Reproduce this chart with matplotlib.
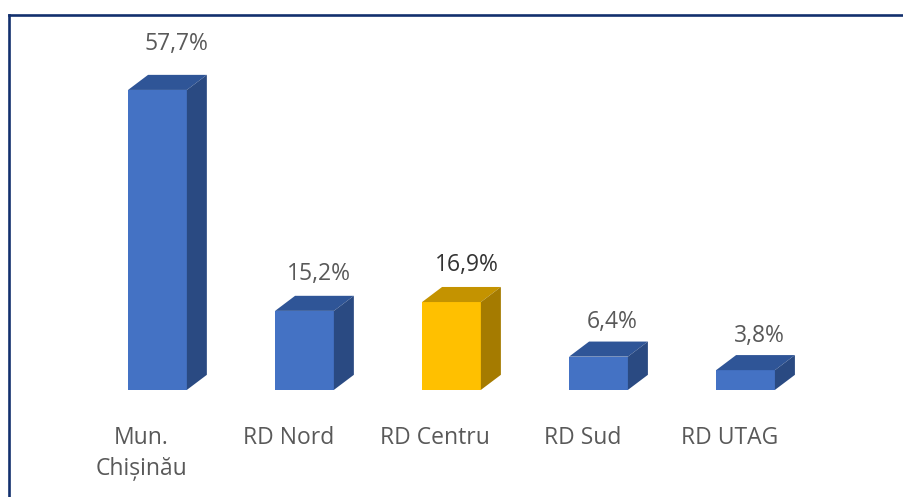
#!/usr/bin/env python3
"""3D-style bar chart: share by region (Chișinău + RD)."""

import matplotlib

matplotlib.use("Agg")
import matplotlib.pyplot as plt
from matplotlib.lines import Line2D
from matplotlib.patches import Polygon

plt.rcParams["font.family"] = ["Open Sans", "DejaVu Sans"]

categories = ["Mun.\nChișinău", "RD Nord", "RD Centru", "RD Sud", "RD UTAG"]
values = [57.7, 15.2, 16.9, 6.4, 3.8]
value_labels = ["57,7%", "15,2%", "16,9%", "6,4%", "3,8%"]
highlight = [False, False, True, False, False]

BLUE = ("#4472C4", "#2F5597", "#2A4A82")      # front, top, side
YELLOW = ("#FFC000", "#C49300", "#A57B00")
TEXT = "#595959"
FRAME = "#13306E"


def main():
    fig = plt.figure(figsize=(9.04, 4.97), dpi=100)
    fig.patch.set_facecolor("white")
    ax = fig.add_axes([0, 0, 1, 1])
    ax.set_xlim(-1.071, 5.078)
    ax.set_ylim(-20.6, 75)
    ax.axis("off")

    width = 0.40
    dx, dy = 0.136, 2.9  # depth of the 3D box in data units

    for i, (v, hl) in enumerate(zip(values, highlight)):
        front, top, side = YELLOW if hl else BLUE
        ax.bar(i, v, width=width, color=front, edgecolor="none", zorder=3)
        x0, x1 = i - width / 2, i + width / 2
        ax.add_patch(Polygon([(x0, v), (x1, v), (x1 + dx, v + dy), (x0 + dx, v + dy)],
                             closed=True, facecolor=top, edgecolor="none", zorder=3))
        ax.add_patch(Polygon([(x1, 0), (x1 + dx, dy), (x1 + dx, v + dy), (x1, v)],
                             closed=True, facecolor=side, edgecolor="none", zorder=3))
        # labels sit a bit higher / further right on taller bars (perspective)
        ax.text(i + 0.09 + 0.0007 * v, v + 6.5 + 0.04 * v, value_labels[i],
                ha="center", va="center", fontsize=16.5,
                color="#333333" if hl else TEXT)
        ax.text(i - 0.11, -6.9, categories[i], ha="center", va="top",
                fontsize=16.5, color=TEXT, linespacing=1.4)

    # dark frame, only top and left edges visible in the crop
    fig.add_artist(Line2D([8.5 / 904, 8.5 / 904], [0, 1 - 14.5 / 497],
                          transform=fig.transFigure, color=FRAME, lw=1.9))
    fig.add_artist(Line2D([8.5 / 904, 1], [1 - 14.5 / 497, 1 - 14.5 / 497],
                          transform=fig.transFigure, color=FRAME, lw=1.9))

    fig.savefig("out.png", dpi=100)
    plt.close(fig)


if __name__ == "__main__":
    main()
